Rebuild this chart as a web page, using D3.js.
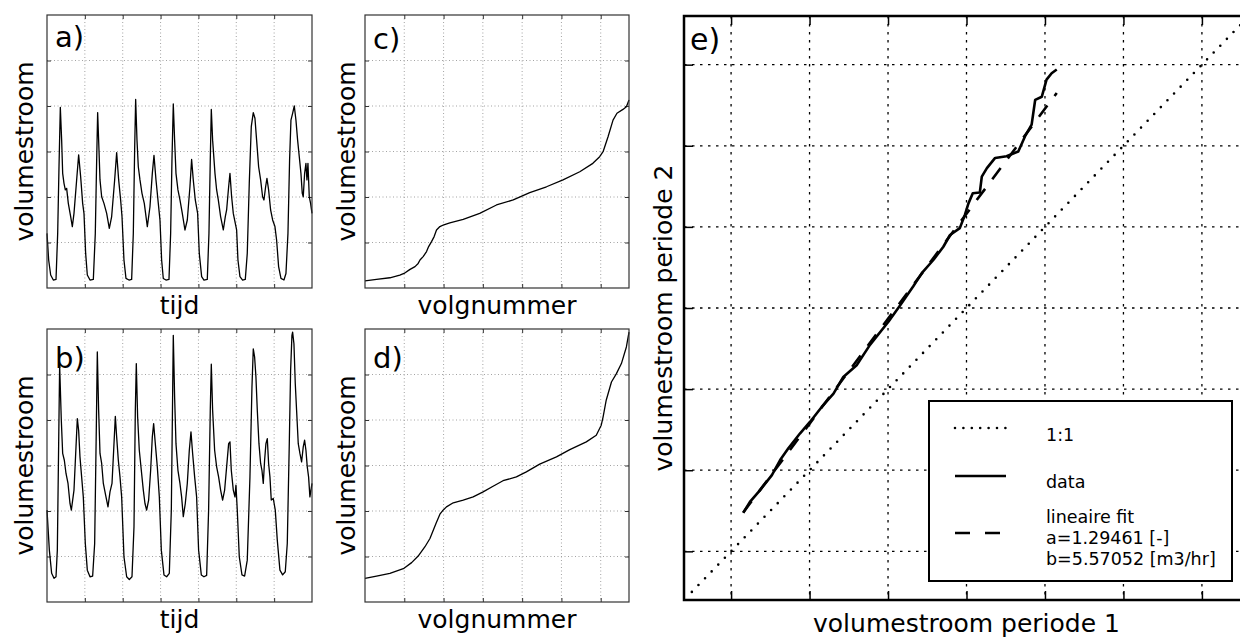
<!DOCTYPE html>
<html lang="nl">
<head>
<meta charset="utf-8">
<title>volumestroom periode 1 en 2</title>
<script src="https://cdn.jsdelivr.net/npm/d3@7/dist/d3.min.js"></script>
<style>
  body { margin: 0; background: #fff; }
  text { font-family: "DejaVu Sans", sans-serif; fill: #000; }
</style>
</head>
<body>
<script>
// ---- data ----
// periode 1: [dag, volumestroom m3/hr]
var periode1 = [
  [0,24.0],[0.044,12.3],[0.097,5.7],[0.167,3.5],[0.238,3.8],[0.282,24.0],[0.317,53.3],[0.352,79.4],
  [0.387,65.0],[0.414,50.4],[0.449,46.0],[0.484,43.1],[0.519,43.8],[0.563,37.2],[0.625,31.4],[0.669,27.0],
  [0.713,32.8],[0.783,47.5],[0.836,58.5],[0.889,48.9],[0.942,37.2],[0.977,32.8],[1.021,15.2],[1.065,5.7],
  [1.136,3.5],[1.224,3.8],[1.276,24.0],[1.312,56.3],[1.338,77.1],
  [1.373,60.7],[1.400,47.5],[1.444,40.1],[1.505,37.2],[1.576,32.8],[1.646,26.2],[1.708,31.4],[1.787,47.5],
  [1.840,59.5],[1.893,47.5],[1.945,38.7],[1.981,31.4],[2.033,12.3],[2.086,4.2],[2.165,3.5],[2.236,3.8],
  [2.280,24.0],[2.315,60.7],[2.342,82.9],
  [2.377,65.0],[2.412,53.3],[2.456,47.5],[2.509,41.6],[2.570,37.2],[2.650,27.0],[2.720,35.7],[2.782,50.4],
  [2.826,58.3],[2.879,47.5],[2.940,37.2],[2.984,29.9],[3.028,12.3],[3.072,4.2],[3.143,3.5],[3.222,3.8],
  [3.266,24.0],[3.301,56.3],[3.336,80.9],
  [3.371,65.0],[3.407,50.4],[3.459,43.1],[3.512,38.7],[3.574,32.8],[3.644,25.5],[3.706,29.9],[3.776,44.5],
  [3.820,56.5],[3.864,47.5],[3.917,38.7],[3.979,32.8],[4.023,15.2],[4.085,5.0],[4.146,3.5],[4.234,3.8],
  [4.278,24.0],[4.313,56.3],[4.340,78.5],
  [4.375,65.0],[4.437,50.4],[4.481,43.1],[4.525,38.7],[4.586,31.4],[4.657,25.5],[4.710,31.4],[4.745,34.3],
  [4.798,44.5],[4.833,50.4],[4.877,40.1],[4.921,32.8],[4.974,28.4],[5.009,25.5],[5.044,12.3],[5.097,5.0],
  [5.167,3.5],[5.238,3.8],[5.290,15.2],[5.343,46.0],[5.396,70.9],[5.449,77.1],
  [5.493,74.6],[5.537,65.0],[5.590,53.3],[5.643,47.5],[5.695,40.1],[5.731,38.7],[5.775,44.5],[5.810,48.2],
  [5.854,43.1],[5.907,34.3],[5.960,29.9],[6.021,27.0],[6.065,21.1],[6.118,9.4],[6.180,4.2],[6.259,3.5],
  [6.312,6.4],[6.365,24.0],[6.408,56.3],[6.444,73.8],[6.488,76.8],[6.532,80.0],
  [6.576,73.8],[6.620,65.0],[6.664,57.7],[6.708,50.4],[6.743,41.6],[6.769,40.1],[6.805,50.4],[6.840,54.8],
  [6.866,47.5],[6.893,54.8],[6.928,40.1],[6.963,37.2],[7.0,32.8]
];

// periode 2: [dag, volumestroom m3/hr]
var periode2 = [
  [0,40.4],[0.062,22.8],[0.123,12.6],[0.185,10.4],[0.238,11.1],[0.273,22.8],[0.308,69.6],[0.334,104.0],
  [0.378,79.9],[0.414,65.3],[0.458,62.3],[0.502,56.5],[0.555,52.1],[0.607,43.3],[0.643,40.4],[0.678,44.8],
  [0.713,49.2],[0.766,68.2],[0.801,80.6],[0.836,75.4],[0.871,63.8],[0.915,55.0],[0.959,46.2],[1.012,25.7],
  [1.065,14.0],[1.136,11.1],[1.206,11.4],[1.259,25.7],[1.303,77.0],[1.329,109.9],
  [1.364,84.3],[1.400,65.3],[1.444,60.9],[1.488,52.1],[1.558,46.2],[1.611,41.8],[1.664,48.4],[1.717,52.1],
  [1.761,66.7],[1.805,81.6],[1.840,72.6],[1.884,62.3],[1.928,55.0],[1.972,46.2],[2.033,19.9],[2.104,11.1],
  [2.174,9.9],[2.245,11.1],[2.298,33.1],[2.333,84.3],[2.359,104.8],
  [2.394,81.3],[2.438,66.7],[2.491,57.9],[2.544,49.2],[2.588,43.3],[2.632,40.4],[2.685,44.8],[2.738,57.9],
  [2.782,72.6],[2.817,78.4],[2.861,69.6],[2.914,59.4],[2.967,46.2],[3.020,22.8],[3.090,11.9],[3.160,11.1],
  [3.231,12.6],[3.284,40.4],[3.319,91.6],[3.336,117.2],
  [3.371,90.1],[3.407,69.6],[3.459,57.9],[3.512,52.1],[3.556,46.2],[3.600,37.5],[3.653,43.3],[3.706,52.1],
  [3.759,66.7],[3.803,74.8],[3.847,65.3],[3.900,55.0],[3.952,46.2],[4.005,22.8],[4.076,11.9],[4.146,11.1],
  [4.217,11.7],[4.269,40.4],[4.313,84.3],[4.340,104.5],
  [4.375,84.3],[4.428,66.7],[4.481,59.4],[4.533,55.0],[4.586,49.2],[4.639,44.8],[4.692,49.2],[4.745,59.4],
  [4.798,69.6],[4.833,70.4],[4.868,57.9],[4.921,49.2],[4.965,46.2],[4.991,51.4],[5.026,40.4],[5.079,19.9],
  [5.150,11.9],[5.220,11.4],[5.290,18.4],[5.361,55.0],[5.414,94.5],[5.449,111.3],
  [5.484,107.7],[5.519,98.9],[5.555,84.3],[5.599,69.6],[5.643,60.9],[5.678,57.9],[5.713,52.1],[5.748,62.3],
  [5.783,69.6],[5.819,71.8],[5.854,60.9],[5.889,55.0],[5.924,44.8],[5.977,45.5],[6.030,40.4],[6.083,27.2],
  [6.153,14.0],[6.224,11.9],[6.294,13.3],[6.347,25.7],[6.400,69.6],[6.435,101.8],[6.470,117.2],[6.488,118.6],
  [6.523,113.5],[6.558,96.0],[6.593,84.3],[6.637,69.6],[6.681,65.3],[6.725,61.6],[6.769,68.2],[6.805,71.1],
  [6.840,66.7],[6.875,59.4],[6.910,55.0],[6.945,46.2],[7.0,52.1]
];

// gesorteerd: [volgnummer, volumestroom]
var gesorteerd1 = [
  [0,3.1],[44,3.8],[95,4.5],[133,5.7],[149,6.4],[172,8.2],[191,9.4],[203,10.8],[210,12.3],[222,13.8],
  [235,16.0],[243,18.2],[254,20.4],[264,22.6],[273,25.5],[286,27.0],[301,27.8],[324,28.6],[375,30.2],
  [438,32.8],[502,36.5],[566,38.7],[629,41.9],[693,44.5],[756,47.5],[820,51.1],[870,54.8],[896,57.7],
  [909,59.9],[928,66.5],[947,73.8],[962,76.8],[985,78.5],[998,79.7],[1008,82.6]
];
var gesorteerd2 = [
  [0,10.4],[44,11.4],[95,12.6],[149,14.8],[178,17.3],[203,20.2],[229,24.3],[248,27.9],[271,34.5],
  [286,38.6],[296,40.1],[311,41.8],[337,43.6],[375,44.8],[413,46.2],[451,48.4],[489,50.9],[527,53.3],
  [578,55.0],[616,57.2],[667,60.6],[731,63.8],[782,67.0],[845,70.4],[883,73.3],[902,77.7],[909,81.3],
  [921,88.7],[941,96.7],[960,100.4],[979,104.8],[998,112.1],[1008,118.6]
];

// e) periode 1 tegen periode 2
var qq = [
  [3.1,9.5],[4.8,12.2],[7.4,15.1],[10.4,18.8],[12.5,22.5],[14.6,25.4],[17.6,29.1],[20.1,31.9],
  [23.1,35.6],[26.1,38.9],[28.6,43.0],[32.0,45.9],[35.4,50.9],[40.1,56.6],[43.1,60.7],[46.4,65.3],
  [48.6,68.6],[51.6,71.9],[54.1,75.1],[55.8,78.0],[58.3,79.7],[59.6,83.0],[60.5,85.8],[61.6,88.3],
  [63.4,88.5],[63.9,92.4],[65.2,94.5],[67.3,97.0],[70.2,97.4],[73.2,98.6],[74.9,102.3],[76.6,105.2],
  [77.5,111.3],[79.2,112.1],[80.4,116.3],[81.7,117.9],[83.0,118.8]
];
var fitA = 1.29461, fitB = 5.57052;
var fitRange = [3.1, 83.0];
var eenOpEen = [-10, 130];

var dagTicks = [1, 2, 3, 4, 5, 6];
var volgTicks = [150, 300, 450, 600, 750, 900];
var stroomTicks = [20, 40, 60, 80, 100];
var eTicks = [0, 20, 40, 60, 80, 100, 120];

var legendItems = [
  {style: "dot", lines: ["1:1"]},
  {style: "solid", lines: ["data"]},
  {style: "dash", lines: ["lineaire fit", "a=1.29461 [-]", "b=5.57052 [m3/hr]"]}
];

// ---- drawing ----
var svg = d3.select("body").append("svg").attr("width", 1240).attr("height", 637);

function smallPanel(p) {
  var x = d3.scaleLinear().domain(p.xDomain).range([p.left, p.right]);
  var y = d3.scaleLinear().domain([0, 120]).range([p.bottom, p.top]);
  var g = svg.append("g");

  // grid
  g.selectAll(".vg").data(p.xTicks).enter().append("line")
    .attr("x1", d => x(d)).attr("x2", d => x(d)).attr("y1", p.top).attr("y2", p.bottom)
    .attr("stroke", "#999").attr("stroke-width", 0.9).attr("stroke-dasharray", "1,2.5");
  g.selectAll(".hg").data(stroomTicks).enter().append("line")
    .attr("x1", p.left).attr("x2", p.right).attr("y1", d => y(d)).attr("y2", d => y(d))
    .attr("stroke", "#999").attr("stroke-width", 0.9).attr("stroke-dasharray", "1,2.5");

  // ticks (inward, all four sides)
  var ax = [
    d3.axisBottom(x).tickValues(p.xTicks).tickSizeInner(-4).tickSizeOuter(0).tickFormat(""),
    d3.axisTop(x).tickValues(p.xTicks).tickSizeInner(-4).tickSizeOuter(0).tickFormat(""),
    d3.axisLeft(y).tickValues(stroomTicks).tickSizeInner(-4).tickSizeOuter(0).tickFormat(""),
    d3.axisRight(y).tickValues(stroomTicks).tickSizeInner(-4).tickSizeOuter(0).tickFormat("")
  ];
  var tr = ["translate(0," + p.bottom + ")", "translate(0," + p.top + ")",
            "translate(" + p.left + ",0)", "translate(" + p.right + ",0)"];
  ax.forEach(function (a, i) {
    var ag = g.append("g").attr("transform", tr[i]).call(a);
    ag.select(".domain").remove();
    ag.selectAll("line").attr("stroke", "#333");
  });

  // data line
  var line = d3.line().x(d => x(d[0])).y(d => y(d[1]));
  g.append("path").datum(p.data).attr("d", line)
    .attr("fill", "none").attr("stroke", "#000").attr("stroke-width", 1.3).attr("stroke-linejoin", "round");

  // frame
  g.append("rect").attr("x", p.left).attr("y", p.top)
    .attr("width", p.right - p.left).attr("height", p.bottom - p.top)
    .attr("fill", "none").attr("stroke", "#333").attr("stroke-width", 1.2);

  // labels
  g.append("text").attr("x", p.left + 8).attr("y", p.labelY)
    .style("font-size", "29px").text(p.label);
  g.append("text").attr("x", (p.left + p.right) / 2).attr("y", p.bottom + 26)
    .attr("text-anchor", "middle").style("font-size", "25px").text(p.xLabel);
  g.append("text")
    .attr("transform", "translate(" + (p.left - p.yLabelGap) + "," + ((p.top + p.bottom) / 2) + ") rotate(-90)")
    .attr("text-anchor", "middle").style("font-size", "25px").text("volumestroom");
}

smallPanel({data: periode1, xDomain: [0, 7], xTicks: dagTicks, left: 47, right: 312, top: 15, bottom: 288,
  label: "a)", labelY: 47, xLabel: "tijd", yLabelGap: 14});
smallPanel({data: periode2, xDomain: [0, 7], xTicks: dagTicks, left: 47, right: 312, top: 329, bottom: 602,
  label: "b)", labelY: 368, xLabel: "tijd", yLabelGap: 14});
smallPanel({data: gesorteerd1, xDomain: [0, 1008], xTicks: volgTicks, left: 365, right: 629, top: 15, bottom: 288,
  label: "c)", labelY: 49, xLabel: "volgnummer", yLabelGap: 10});
smallPanel({data: gesorteerd2, xDomain: [0, 1008], xTicks: volgTicks, left: 365, right: 629, top: 329, bottom: 602,
  label: "d)", labelY: 368, xLabel: "volgnummer", yLabelGap: 10});

// ---- panel e ----
(function () {
  var L = 684, R = 1249, T = 16, B = 600;
  var x = d3.scaleLinear().domain([-12, 132]).range([L, R]);
  var y = d3.scaleLinear().domain([-12, 132]).range([B, T]);
  var g = svg.append("g");

  g.selectAll(".vg").data(eTicks).enter().append("line")
    .attr("x1", d => x(d)).attr("x2", d => x(d)).attr("y1", T).attr("y2", B)
    .attr("stroke", "#000").attr("stroke-width", 1.3).attr("stroke-dasharray", "2.5,5.5");
  g.selectAll(".hg").data(eTicks).enter().append("line")
    .attr("x1", L).attr("x2", R).attr("y1", d => y(d)).attr("y2", d => y(d))
    .attr("stroke", "#000").attr("stroke-width", 1.3).attr("stroke-dasharray", "2.5,5.5");

  var ax = [
    [d3.axisBottom(x), "translate(0," + B + ")"], [d3.axisTop(x), "translate(0," + T + ")"],
    [d3.axisLeft(y), "translate(" + L + ",0)"], [d3.axisRight(y), "translate(" + R + ",0)"]
  ];
  ax.forEach(function (a) {
    var ag = g.append("g").attr("transform", a[1])
      .call(a[0].tickValues(eTicks).tickSizeInner(-9).tickSizeOuter(0).tickFormat(""));
    ag.select(".domain").remove();
    ag.selectAll("line").attr("stroke", "#000").attr("stroke-width", 1.5);
  });

  // 1:1
  g.append("line").attr("x1", x(eenOpEen[0])).attr("y1", y(eenOpEen[0]))
    .attr("x2", x(eenOpEen[1])).attr("y2", y(eenOpEen[1]))
    .attr("stroke", "#000").attr("stroke-width", 2.6).attr("stroke-linecap", "round")
    .attr("stroke-dasharray", "0,9.5");

  // data
  var line = d3.line().x(d => x(d[0])).y(d => y(d[1]));
  g.append("path").datum(qq).attr("d", line).attr("fill", "none")
    .attr("stroke", "#000").attr("stroke-width", 2.6).attr("stroke-linejoin", "round");

  // lineaire fit
  g.append("line").attr("x1", x(fitRange[0])).attr("y1", y(fitA * fitRange[0] + fitB))
    .attr("x2", x(fitRange[1])).attr("y2", y(fitA * fitRange[1] + fitB))
    .attr("stroke", "#000").attr("stroke-width", 2.6).attr("stroke-dasharray", "14,12");

  // frame
  g.append("rect").attr("x", L).attr("y", T).attr("width", R - L).attr("height", B - T)
    .attr("fill", "none").attr("stroke", "#000").attr("stroke-width", 2.5);

  g.append("text").attr("x", L + 6).attr("y", T + 34).style("font-size", "30px").text("e)");
  g.append("text").attr("x", (L + R) / 2).attr("y", B + 32).attr("text-anchor", "middle")
    .style("font-size", "25px").text("volumestroom periode 1");
  g.append("text")
    .attr("transform", "translate(" + (L - 12) + "," + ((T + B) / 2 + 10) + ") rotate(-90)")
    .attr("text-anchor", "middle").style("font-size", "25px").text("volumestroom periode 2");

  // legend
  var lg = g.append("g");
  lg.append("rect").attr("x", 929).attr("y", 401).attr("width", 303).attr("height", 180)
    .attr("fill", "#fff").attr("stroke", "#000").attr("stroke-width", 2);
  var sampleY = [428, 476, 533];
  var textY = [441, 488, 523];
  legendItems.forEach(function (it, i) {
    var s = lg.append("line").attr("x1", 955).attr("x2", 1006)
      .attr("y1", sampleY[i]).attr("y2", sampleY[i]).attr("stroke", "#000").attr("stroke-width", 2.6);
    if (it.style === "dot") s.attr("stroke-linecap", "round").attr("stroke-dasharray", "0,8.4");
    if (it.style === "dash") s.attr("x2", 1001).attr("stroke-dasharray", "15,15");
    it.lines.forEach(function (t, j) {
      lg.append("text").attr("x", 1046).attr("y", textY[i] + j * 21)
        .style("font-size", "17.5px").text(t);
    });
  });
})();
</script>
</body>
</html>
